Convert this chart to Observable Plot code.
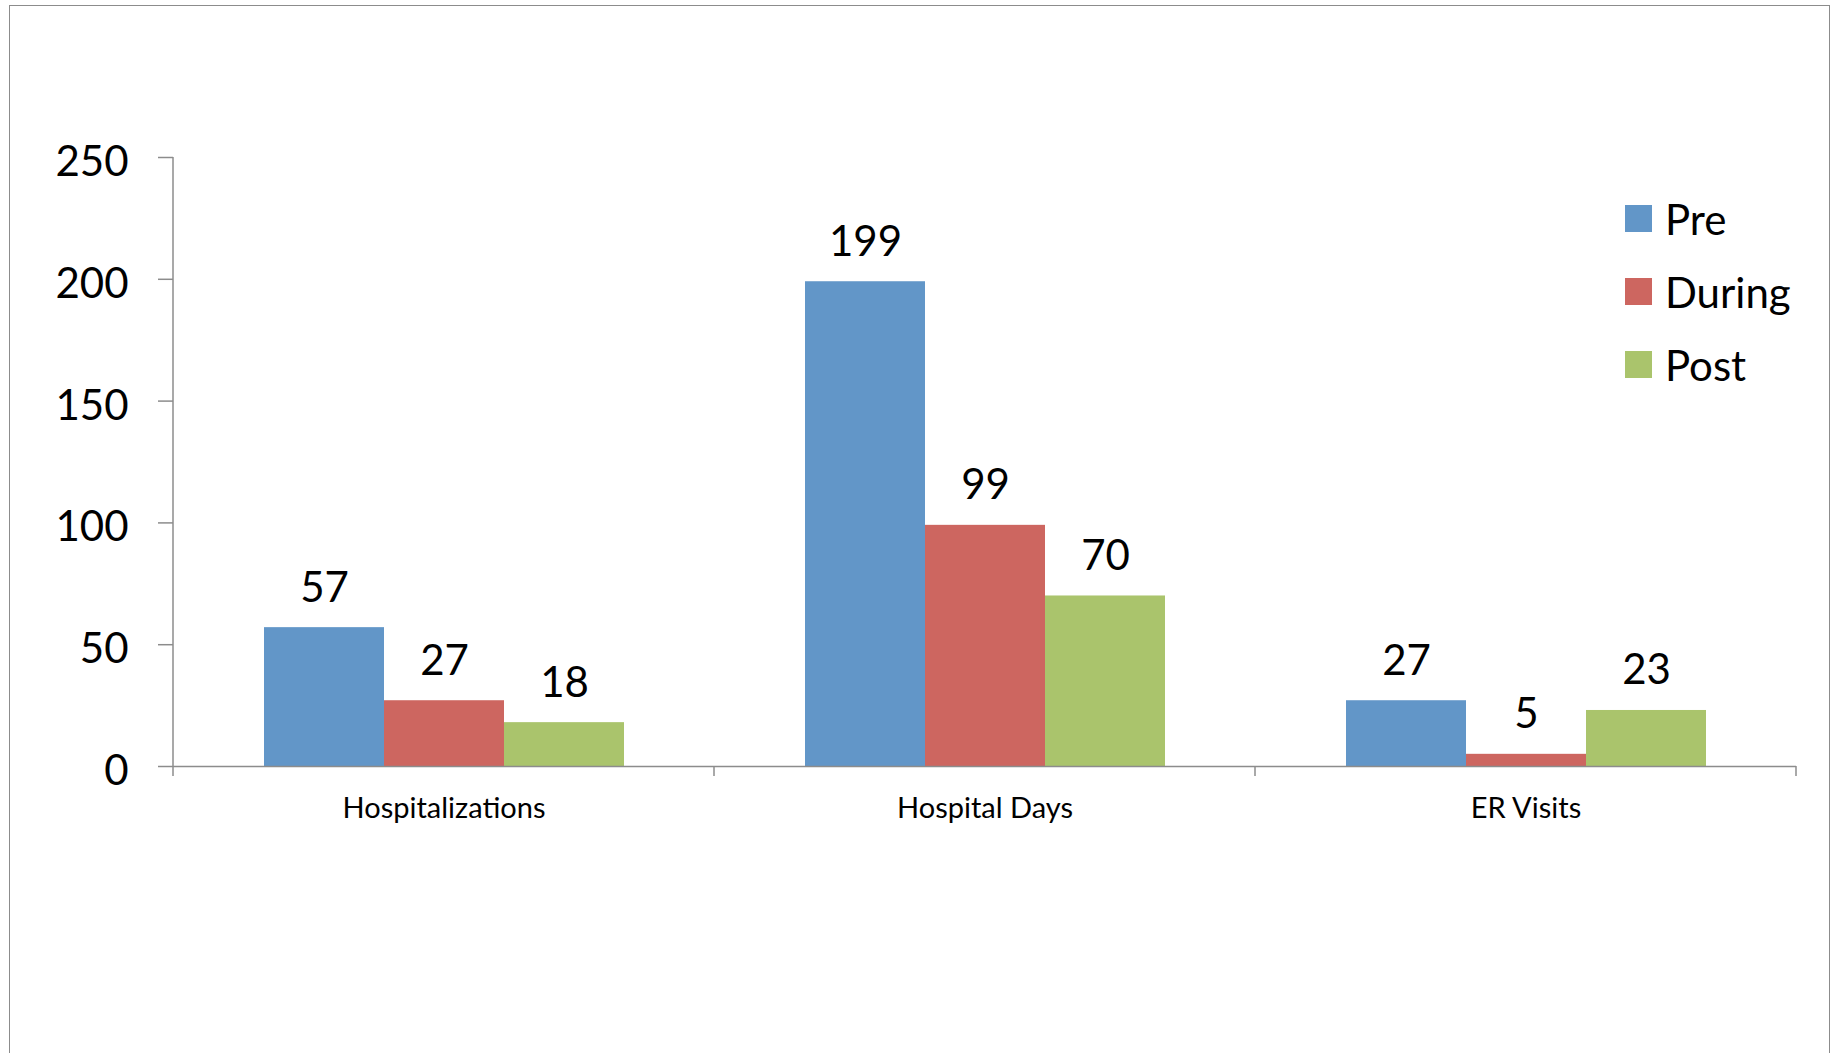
<!DOCTYPE html>
<html><head><meta charset="utf-8">
<script src="https://cdn.jsdelivr.net/npm/d3@7"></script>
<script src="https://cdn.jsdelivr.net/npm/@observablehq/plot@0.6"></script>
<style>
html,body{margin:0;padding:0;background:#fff;}
#wrap{position:relative;width:1835px;height:1053px;overflow:hidden;font-family:Lato,sans-serif;}
#frame{position:absolute;left:9px;top:5px;width:1821px;height:1100px;border:1.5px solid #8c8c8c;box-sizing:border-box;}
#chart{position:absolute;left:0;top:0;}
#legend{position:absolute;left:1625px;top:182px;}
.item{display:flex;align-items:center;height:73px;font-size:42px;color:#000;}
.sw{width:27px;height:27px;margin-right:13px;}
</style></head><body>
<div id="wrap"><div id="frame"></div><div id="chart"></div><div id="legend"></div></div>
<script>
const categories = ["Hospitalizations", "Hospital Days", "ER Visits"];
const series = ["Pre", "During", "Post"];
const preValues = [57, 199, 27];
const duringValues = [27, 99, 5];
const postValues = [18, 70, 23];
const yTicks = [0, 50, 100, 150, 200, 250];
const colors = ["#6296C8", "#CD6660", "#AAC46C"];

const seriesValues = [preValues, duringValues, postValues];
const data = [];
categories.forEach((c, i) => {
  seriesValues.forEach((arr, j) => data.push({category: c, series: series[j], value: arr[i]}));
});

const plot = Plot.plot({
  width: 1835, height: 1053,
  marginLeft: 172, marginRight: 39, marginTop: 157, marginBottom: 287,
  style: {fontFamily: "Lato, sans-serif", background: "transparent", color: "#000"},
  fx: {domain: categories, padding: 0, label: null},
  x: {domain: series, paddingInner: 0, paddingOuter: 0.74, axis: null},
  y: {domain: [0, 250], label: null},
  color: {domain: series, range: colors},
  marks: [
    Plot.axisY({ticks: yTicks, tickSize: 15, tickFormat: () => "", stroke: "#8c8c8c", strokeWidth: 1.5, label: null}),
    Plot.axisY({ticks: yTicks, tickSize: 0, tickPadding: 45, fontSize: 42, dy: 5, fill: "#000", label: null}),
    Plot.axisFx({anchor: "bottom", tickSize: 0, tickPadding: 31, fontSize: 29, fill: "#000", label: null}),
    Plot.barY(data, {fx: "category", x: "series", y: "value", fill: "series"}),
    Plot.ruleY([0], {stroke: "#8c8c8c", strokeWidth: 1.5}),
    Plot.text(data, {fx: "category", x: "series", y: "value", text: d => String(d.value), lineAnchor: "bottom", dy: -26, fontSize: 42, fill: "#000"})
  ]
});
document.getElementById("chart").appendChild(plot);

// axis lines drawn from the plot's own scales
const fx = plot.scale("fx"), y = plot.scale("y");
const svg = d3.select(plot.tagName.toLowerCase() === "svg" ? plot : plot.querySelector("svg"));
const bounds = categories.map(c => fx.apply(c)).concat([fx.apply(categories[categories.length - 1]) + fx.bandwidth]);
const y0 = y.apply(0), yTop = y.apply(yTicks[yTicks.length - 1]);
const g = svg.append("g").attr("stroke", "#8c8c8c").attr("stroke-width", 1.5);
g.append("line").attr("x1", bounds[0]).attr("x2", bounds[0]).attr("y1", yTop).attr("y2", y0);
bounds.forEach(b => g.append("line").attr("x1", b).attr("x2", b).attr("y1", y0).attr("y2", y0 + 10));

// legend
const legend = d3.select("#legend");
series.forEach((s, i) => {
  const it = legend.append("div").attr("class", "item");
  it.append("div").attr("class", "sw").style("background", colors[i]);
  it.append("span").text(s);
});
</script>
</body></html>
